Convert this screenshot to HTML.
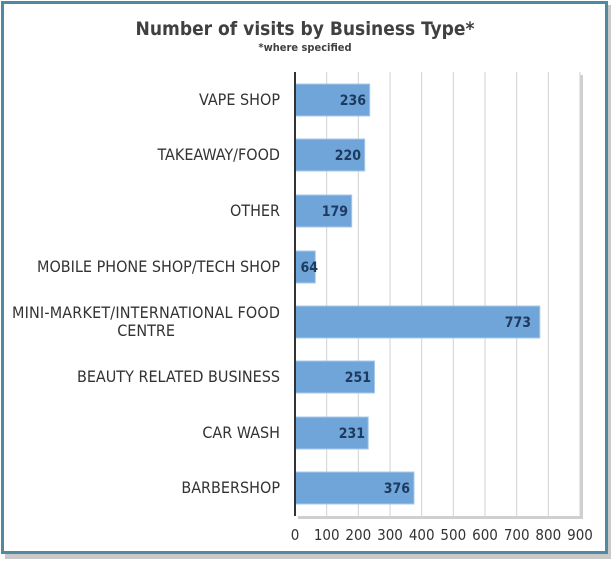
<!DOCTYPE html>
<html><head><style>
body{margin:0;background:#fff;width:616px;height:562px;overflow:hidden}
svg{display:block;font-family:"DejaVu Sans Condensed","Liberation Sans Narrow","Liberation Sans",sans-serif}
</style></head><body>
<svg width="616" height="562" viewBox="0 0 616 562">
<rect x="5" y="5" width="606" height="554" fill="#c9c9c9"/>
<rect x="2.5" y="2.5" width="604" height="550" fill="#fff" stroke="#4f8aa0" stroke-width="3"/>
<text x="305" y="35" text-anchor="middle" font-size="19" font-weight="bold" fill="#404040">Number of visits by Business Type*</text>
<text x="305" y="51" text-anchor="middle" font-size="11" font-weight="bold" fill="#404040">*where specified</text>
<rect x="298" y="75" width="285" height="444" fill="#cfcfcf"/>
<rect x="295" y="72" width="285" height="444" fill="#fff"/>
<g stroke="#d0d0d0" stroke-width="1">
<line x1="326.7" y1="72" x2="326.7" y2="516"/><line x1="358.3" y1="72" x2="358.3" y2="516"/>
<line x1="390" y1="72" x2="390" y2="516"/><line x1="421.7" y1="72" x2="421.7" y2="516"/>
<line x1="453.3" y1="72" x2="453.3" y2="516"/><line x1="485" y1="72" x2="485" y2="516"/>
<line x1="516.7" y1="72" x2="516.7" y2="516"/><line x1="548.3" y1="72" x2="548.3" y2="516"/>
<line x1="580" y1="72" x2="580" y2="516"/>
</g>
<g fill="#6fa5d8" stroke="#a9c9ea" stroke-width="1">
<rect x="295" y="84" width="74.7" height="32"/>
<rect x="295" y="139" width="69.7" height="32"/>
<rect x="295" y="195" width="56.7" height="32"/>
<rect x="295" y="251" width="20.3" height="32"/>
<rect x="295" y="306" width="244.8" height="32"/>
<rect x="295" y="361" width="79.5" height="32"/>
<rect x="295" y="417" width="73.2" height="32"/>
<rect x="295" y="472" width="119" height="32"/>
</g>
<line x1="295" y1="72" x2="295" y2="516" stroke="#333" stroke-width="2"/>
<g font-size="14" font-weight="bold" fill="#1f3a60" text-anchor="end">
<text x="366" y="105">236</text><text x="361" y="160">220</text><text x="348" y="216">179</text>
<text x="318" y="272">64</text><text x="531" y="327">773</text><text x="371" y="382">251</text>
<text x="365" y="438">231</text><text x="410" y="493">376</text>
</g>
<g font-size="16" fill="#333" text-anchor="end">
<text x="280" y="105">VAPE SHOP</text><text x="280" y="160">TAKEAWAY/FOOD</text>
<text x="280" y="216">OTHER</text><text x="280" y="272">MOBILE PHONE SHOP/TECH SHOP</text>
<text x="280" y="318" textLength="268">MINI-MARKET/INTERNATIONAL  FOOD</text>
<text x="175" y="336">CENTRE</text>
<text x="280" y="382">BEAUTY RELATED BUSINESS</text>
<text x="280" y="438">CAR WASH</text><text x="280" y="493">BARBERSHOP</text>
</g>
<g font-size="15" fill="#333" text-anchor="middle">
<text x="295" y="540">0</text><text x="326.7" y="540">100</text><text x="358.3" y="540">200</text>
<text x="390" y="540">300</text><text x="421.7" y="540">400</text><text x="453.3" y="540">500</text>
<text x="485" y="540">600</text><text x="516.7" y="540">700</text><text x="548.3" y="540">800</text>
<text x="580" y="540">900</text>
</g>
</svg>
</body></html>
